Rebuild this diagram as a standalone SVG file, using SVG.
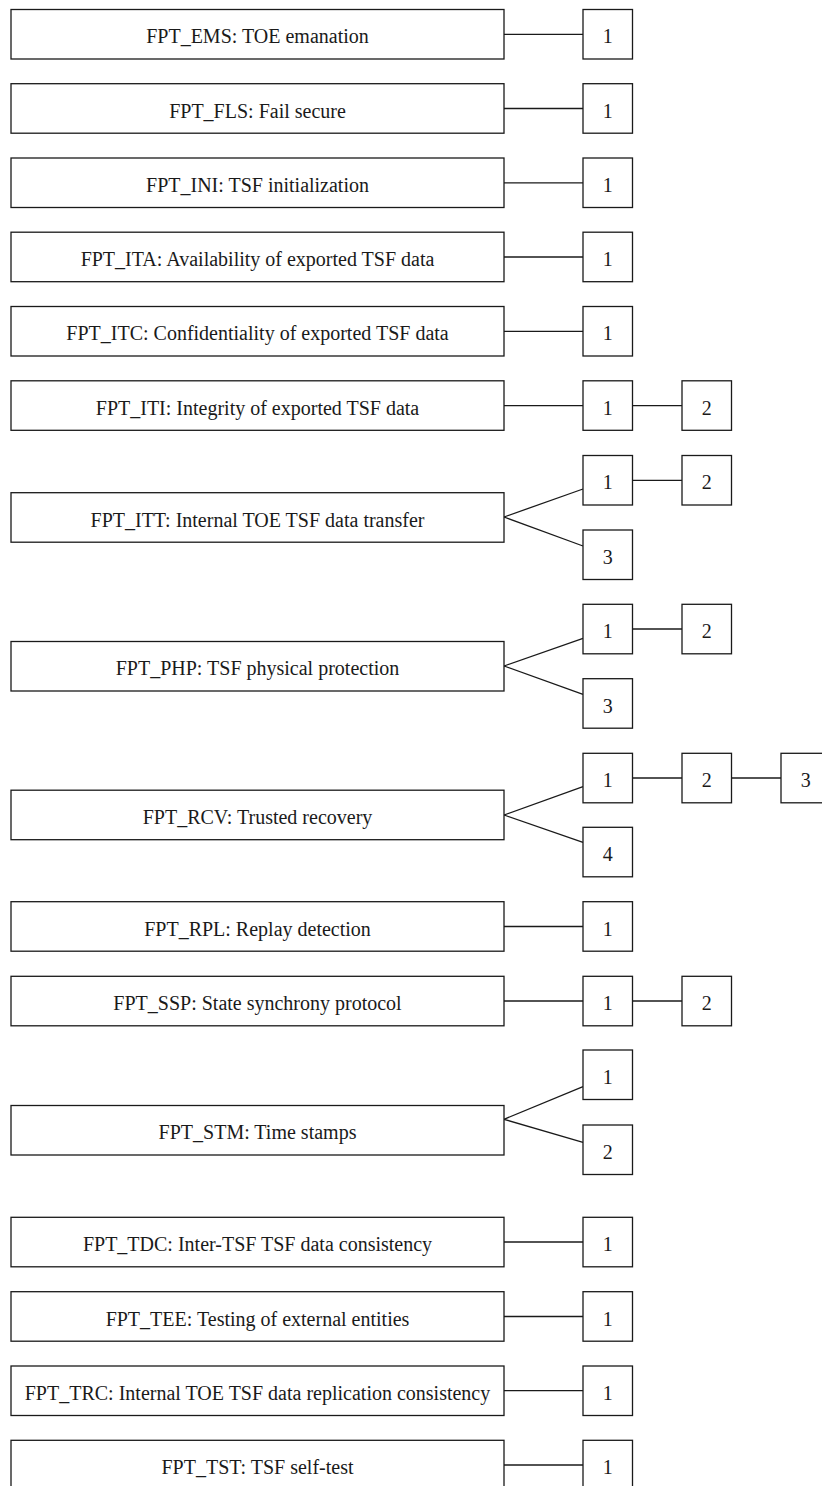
<svg xmlns="http://www.w3.org/2000/svg" width="822" height="1486" viewBox="0 0 822 1486">
<style>
rect{fill:#fff;stroke:#1a1a1a;stroke-width:1.3}
text{font-family:"Liberation Serif","Times New Roman",serif;font-size:20px;fill:#1a1a1a;text-anchor:middle}
.c line{stroke:#1a1a1a;stroke-width:1.3}
</style>
<rect x="0" y="0" width="822" height="1486" style="fill:#fff;stroke:none"/>
<g class="c" id="connectors">
<line x1="504" y1="34.3" x2="583" y2="34.3"/>
<line x1="504" y1="108.5" x2="583" y2="108.5"/>
<line x1="504" y1="182.8" x2="583" y2="182.8"/>
<line x1="504" y1="257" x2="583" y2="257"/>
<line x1="504" y1="331.3" x2="583" y2="331.3"/>
<line x1="504" y1="405.6" x2="583" y2="405.6"/>
<line x1="632.5" y1="405.6" x2="682" y2="405.6"/>
<line x1="504" y1="517" x2="583" y2="489"/>
<line x1="504" y1="517" x2="583" y2="546"/>
<line x1="632.5" y1="480.3" x2="682" y2="480.3"/>
<line x1="504" y1="666" x2="583" y2="638.3"/>
<line x1="504" y1="666" x2="583" y2="694.3"/>
<line x1="632.5" y1="629" x2="682" y2="629"/>
<line x1="504" y1="815" x2="583" y2="786.7"/>
<line x1="504" y1="815" x2="583" y2="842.3"/>
<line x1="632.5" y1="778" x2="682" y2="778"/>
<line x1="731.5" y1="778" x2="781" y2="778"/>
<line x1="504" y1="926.5" x2="583" y2="926.5"/>
<line x1="504" y1="1001" x2="583" y2="1001"/>
<line x1="632.5" y1="1001" x2="682" y2="1001"/>
<line x1="504" y1="1119.3" x2="583" y2="1086.7"/>
<line x1="504" y1="1119.3" x2="583" y2="1142.3"/>
<line x1="504" y1="1242" x2="583" y2="1242"/>
<line x1="504" y1="1316.5" x2="583" y2="1316.5"/>
<line x1="504" y1="1390.7" x2="583" y2="1390.7"/>
<line x1="504" y1="1465" x2="583" y2="1465"/>
</g>
<g id="FPT_EMS"><rect x="11" y="9.5" width="493" height="49.5"/><text x="257.5" y="43.3">FPT_EMS: TOE emanation</text></g>
<g id="FPT_EMS_1"><rect x="583" y="9.5" width="49.5" height="49.5"/><text x="607.7" y="43.3">1</text></g>
<g id="FPT_FLS"><rect x="11" y="83.7" width="493" height="49.5"/><text x="257.5" y="117.5">FPT_FLS: Fail secure</text></g>
<g id="FPT_FLS_1"><rect x="583" y="83.7" width="49.5" height="49.5"/><text x="607.7" y="117.5">1</text></g>
<g id="FPT_INI"><rect x="11" y="158" width="493" height="49.5"/><text x="257.5" y="191.8">FPT_INI: TSF initialization</text></g>
<g id="FPT_INI_1"><rect x="583" y="158" width="49.5" height="49.5"/><text x="607.7" y="191.8">1</text></g>
<g id="FPT_ITA"><rect x="11" y="232.2" width="493" height="49.5"/><text x="257.5" y="266">FPT_ITA: Availability of exported TSF data</text></g>
<g id="FPT_ITA_1"><rect x="583" y="232.2" width="49.5" height="49.5"/><text x="607.7" y="266">1</text></g>
<g id="FPT_ITC"><rect x="11" y="306.5" width="493" height="49.5"/><text x="257.5" y="340.3">FPT_ITC: Confidentiality of exported TSF data</text></g>
<g id="FPT_ITC_1"><rect x="583" y="306.5" width="49.5" height="49.5"/><text x="607.7" y="340.3">1</text></g>
<g id="FPT_ITI"><rect x="11" y="380.8" width="493" height="49.5"/><text x="257.5" y="414.6">FPT_ITI: Integrity of exported TSF data</text></g>
<g id="FPT_ITI_1"><rect x="583" y="380.8" width="49.5" height="49.5"/><text x="607.7" y="414.6">1</text></g>
<g id="FPT_ITI_2"><rect x="682" y="380.8" width="49.5" height="49.5"/><text x="706.7" y="414.6">2</text></g>
<g id="FPT_ITT"><rect x="11" y="492.7" width="493" height="49.5"/><text x="257.5" y="526.5">FPT_ITT: Internal TOE TSF data transfer</text></g>
<g id="FPT_ITT_1"><rect x="583" y="455.5" width="49.5" height="49.5"/><text x="607.7" y="489.3">1</text></g>
<g id="FPT_ITT_2"><rect x="682" y="455.5" width="49.5" height="49.5"/><text x="706.7" y="489.3">2</text></g>
<g id="FPT_ITT_3"><rect x="583" y="530" width="49.5" height="49.5"/><text x="607.7" y="563.8">3</text></g>
<g id="FPT_PHP"><rect x="11" y="641.5" width="493" height="49.5"/><text x="257.5" y="675.3">FPT_PHP: TSF physical protection</text></g>
<g id="FPT_PHP_1"><rect x="583" y="604.3" width="49.5" height="49.5"/><text x="607.7" y="638.1">1</text></g>
<g id="FPT_PHP_2"><rect x="682" y="604.3" width="49.5" height="49.5"/><text x="706.7" y="638.1">2</text></g>
<g id="FPT_PHP_3"><rect x="583" y="678.7" width="49.5" height="49.5"/><text x="607.7" y="712.5">3</text></g>
<g id="FPT_RCV"><rect x="11" y="790.2" width="493" height="49.5"/><text x="257.5" y="824">FPT_RCV: Trusted recovery</text></g>
<g id="FPT_RCV_1"><rect x="583" y="753.3" width="49.5" height="49.5"/><text x="607.7" y="787.1">1</text></g>
<g id="FPT_RCV_2"><rect x="682" y="753.3" width="49.5" height="49.5"/><text x="706.7" y="787.1">2</text></g>
<g id="FPT_RCV_3"><rect x="781" y="753.3" width="49.5" height="49.5"/><text x="805.7" y="787.1">3</text></g>
<g id="FPT_RCV_4"><rect x="583" y="827.3" width="49.5" height="49.5"/><text x="607.7" y="861.1">4</text></g>
<g id="FPT_RPL"><rect x="11" y="901.7" width="493" height="49.5"/><text x="257.5" y="935.5">FPT_RPL: Replay detection</text></g>
<g id="FPT_RPL_1"><rect x="583" y="901.7" width="49.5" height="49.5"/><text x="607.7" y="935.5">1</text></g>
<g id="FPT_SSP"><rect x="11" y="976.3" width="493" height="49.5"/><text x="257.5" y="1010.1">FPT_SSP: State synchrony protocol</text></g>
<g id="FPT_SSP_1"><rect x="583" y="976.3" width="49.5" height="49.5"/><text x="607.7" y="1010.1">1</text></g>
<g id="FPT_SSP_2"><rect x="682" y="976.3" width="49.5" height="49.5"/><text x="706.7" y="1010.1">2</text></g>
<g id="FPT_STM"><rect x="11" y="1105.5" width="493" height="49.5"/><text x="257.5" y="1139.3">FPT_STM: Time stamps</text></g>
<g id="FPT_STM_1"><rect x="583" y="1050" width="49.5" height="49.5"/><text x="607.7" y="1083.8">1</text></g>
<g id="FPT_STM_2"><rect x="583" y="1125" width="49.5" height="49.5"/><text x="607.7" y="1158.8">2</text></g>
<g id="FPT_TDC"><rect x="11" y="1217.3" width="493" height="49.5"/><text x="257.5" y="1251.1">FPT_TDC: Inter-TSF TSF data consistency</text></g>
<g id="FPT_TDC_1"><rect x="583" y="1217.3" width="49.5" height="49.5"/><text x="607.7" y="1251.1">1</text></g>
<g id="FPT_TEE"><rect x="11" y="1291.7" width="493" height="49.5"/><text x="257.5" y="1325.5">FPT_TEE: Testing of external entities</text></g>
<g id="FPT_TEE_1"><rect x="583" y="1291.7" width="49.5" height="49.5"/><text x="607.7" y="1325.5">1</text></g>
<g id="FPT_TRC"><rect x="11" y="1366" width="493" height="49.5"/><text x="257.5" y="1399.8">FPT_TRC: Internal TOE TSF data replication consistency</text></g>
<g id="FPT_TRC_1"><rect x="583" y="1366" width="49.5" height="49.5"/><text x="607.7" y="1399.8">1</text></g>
<g id="FPT_TST"><rect x="11" y="1440.3" width="493" height="49.5"/><text x="257.5" y="1474.1">FPT_TST: TSF self-test</text></g>
<g id="FPT_TST_1"><rect x="583" y="1440.3" width="49.5" height="49.5"/><text x="607.7" y="1474.1">1</text></g>
</svg>
